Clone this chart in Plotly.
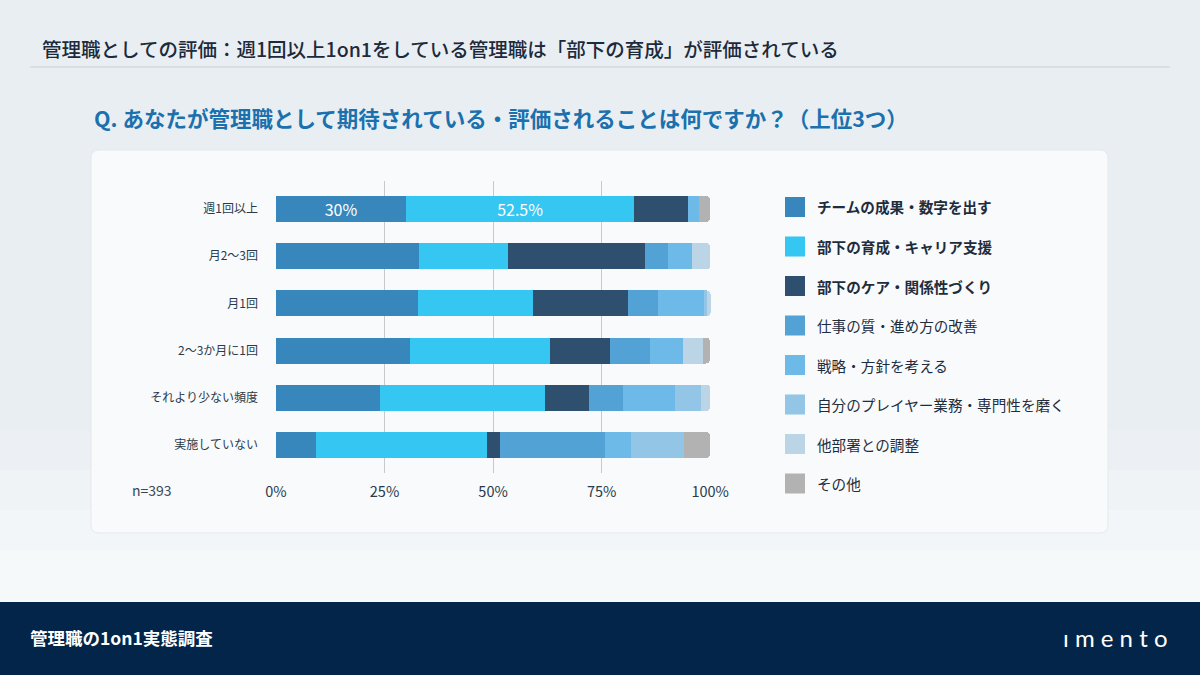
import plotly.graph_objects as go

# ---- data ----
categories = ["週1回以上", "月2〜3回", "月1回", "2〜3か月に1回", "それより少ない頻度", "実施していない"]
series_names = [
    "チームの成果・数字を出す",
    "部下の育成・キャリア支援",
    "部下のケア・関係性づくり",
    "仕事の質・進め方の改善",
    "戦略・方針を考える",
    "自分のプレイヤー業務・専門性を磨く",
    "他部署との調整",
    "その他",
]
team = [30, 32.9, 32.6, 30.8, 24, 9.1]
growth = [52.5, 20.5, 26.5, 32.3, 38, 39.4]
care = [12.5, 31.5, 22.0, 13.8, 10, 3.0]
quality = [0, 5.5, 6.8, 9.2, 8, 24.2]
strategy = [2.5, 5.5, 10.6, 7.7, 12, 6.1]
player = [0, 0, 0.8, 0, 6, 12.1]
coord = [0, 4.1, 0.8, 4.6, 2, 0]
other = [2.5, 0, 0, 1.5, 0, 6.1]
series_values = [team, growth, care, quality, strategy, player, coord, other]
x_ticks = [0, 25, 50, 75, 100]
x_tick_labels = [f"{v}%" for v in x_ticks]
labelled_series = [0, 1]  # series whose first-row value is printed
n_label = "n=393"

colors = ["#3786bc", "#35c6f1", "#2f4f6f", "#52a2d6", "#6db9e8", "#93c5e6", "#bcd5e6", "#b2b2b2"]
bold_legend = [True, True, True, False, False, False, False, False]

W, H = 1200, 675
FONT = "Noto Sans CJK JP"


def px(x):
    return x / W


def py(y):
    return 1 - y / H


fig = go.Figure()
for i, (name, vals) in enumerate(zip(series_names, series_values)):
    texts = [(f"{v:g}%" if (r == 0 and i in labelled_series) else "") for r, v in enumerate(vals)]
    fig.add_trace(go.Bar(
        y=categories, x=vals, name=name, orientation="h",
        marker=dict(color=colors[i], line=dict(width=0)),
        text=texts, textposition="inside", insidetextanchor="middle",
        textfont=dict(color="white", size=16, family=FONT),
        constraintext="none",
        hoverinfo="skip",
    ))

shapes = []
# footer band
shapes.append(dict(type="rect", xref="paper", yref="paper", x0=-0.01, x1=1.01, y0=-0.01, y1=py(602),
                   fillcolor="#03254a", line=dict(width=0), layer="below"))
# snowy lighter ground
for top, alpha in [(430, 0.15), (470, 0.2), (510, 0.25), (550, 0.3)]:
    shapes.append(dict(type="rect", xref="paper", yref="paper", x0=-0.01, x1=1.01, y0=py(602), y1=py(top),
                       fillcolor=f"rgba(255,255,255,{alpha})", line=dict(width=0), layer="below"))

# card with rounded corners
x0, x1, y0, y1, r = 91, 1108, 150, 533, 8
path = (f"M {px(x0+r)} {py(y0)} L {px(x1-r)} {py(y0)} Q {px(x1)} {py(y0)} {px(x1)} {py(y0+r)} "
        f"L {px(x1)} {py(y1-r)} Q {px(x1)} {py(y1)} {px(x1-r)} {py(y1)} "
        f"L {px(x0+r)} {py(y1)} Q {px(x0)} {py(y1)} {px(x0)} {py(y1-r)} "
        f"L {px(x0)} {py(y0+r)} Q {px(x0)} {py(y0)} {px(x0+r)} {py(y0)} Z")
shapes.append(dict(type="path", xref="paper", yref="paper", path=path,
                   fillcolor="rgba(248,250,252,0.97)", line=dict(color="rgba(228,233,238,1)", width=1), layer="below"))
# title underline
shapes.append(dict(type="line", xref="paper", yref="paper", x0=px(30), x1=px(1170), y0=py(67), y1=py(67),
                   line=dict(color="#c9cfd5", width=1), layer="below"))

annotations = [
    dict(text="管理職としての評価：週1回以上1on1をしている管理職は「部下の育成」が評価されている",
         xref="paper", yref="paper", x=px(40), y=py(48), xanchor="left", yanchor="middle", showarrow=False,
         font=dict(family=FONT, size=19.5, color="#1c2a3b", weight=500)),
    dict(text="<b>Q. あなたが管理職として期待されている・評価されることは何ですか？（上位3つ）</b>",
         xref="paper", yref="paper", x=px(92), y=py(118), xanchor="left", yanchor="middle", showarrow=False,
         font=dict(family=FONT, size=21.5, color="#1b70ae")),
    dict(text=n_label, xref="paper", yref="paper", x=px(130), y=py(490), xanchor="left", yanchor="middle",
         showarrow=False, font=dict(family=FONT, size=14, color="#3a4756")),
    dict(text="<b>管理職の1on1実態調査</b>", xref="paper", yref="paper", x=px(28), y=py(637), xanchor="left",
         yanchor="middle", showarrow=False, font=dict(family=FONT, size=17.5, color="white")),
    dict(text="ı m e n t o", xref="paper", yref="paper", x=px(1170), y=py(637), xanchor="right",
         yanchor="middle", showarrow=False, font=dict(family="Lato", size=24, color="white")),
]

# custom legend
for i, name in enumerate(series_names):
    cy = 207 + i * 39.5
    shapes.append(dict(type="rect", xref="paper", yref="paper", x0=px(785), x1=px(805),
                       y0=py(cy + 10), y1=py(cy - 10), fillcolor=colors[i], line=dict(width=0)))
    label = f"<b>{name}</b>" if bold_legend[i] else name
    annotations.append(dict(text=label, xref="paper", yref="paper", x=px(815), y=py(cy), xanchor="left",
                            yanchor="middle", showarrow=False,
                            font=dict(family=FONT, size=14.6, color="#1e2d3d")))

fig.update_layout(
    width=W, height=H, autosize=False,
    margin=dict(l=0, r=0, t=0, b=0, pad=0, autoexpand=False),
    paper_bgcolor="#e9eef2", plot_bgcolor="rgba(0,0,0,0)",
    barmode="stack", bargap=0.45, barcornerradius=4,
    showlegend=False,
    shapes=shapes, annotations=annotations,
    font=dict(family=FONT),
    xaxis=dict(domain=[px(276), px(711)], range=[0, 100.2], tickvals=x_ticks, ticktext=x_tick_labels,
               showgrid=True, gridcolor="#c9c9c9", gridwidth=1, zeroline=False, showline=False, automargin=False,
               tickfont=dict(family=FONT, size=14.5, color="#2a3a4a"), ticklabelstandoff=8),
    yaxis=dict(domain=[py(473.3), py(180.7)], range=[5.6, -0.6], showgrid=False, zeroline=False, automargin=False,
               showline=False, tickfont=dict(family=FONT, size=12, color="#2a3a4a"), ticklabelstandoff=17),
)

fig.write_html("out.html",
               config={"displayModeBar": False, "responsive": False},
               post_script="document.body.style.margin='0';document.body.style.padding='0';"
                           "document.documentElement.style.overflow='hidden';")
